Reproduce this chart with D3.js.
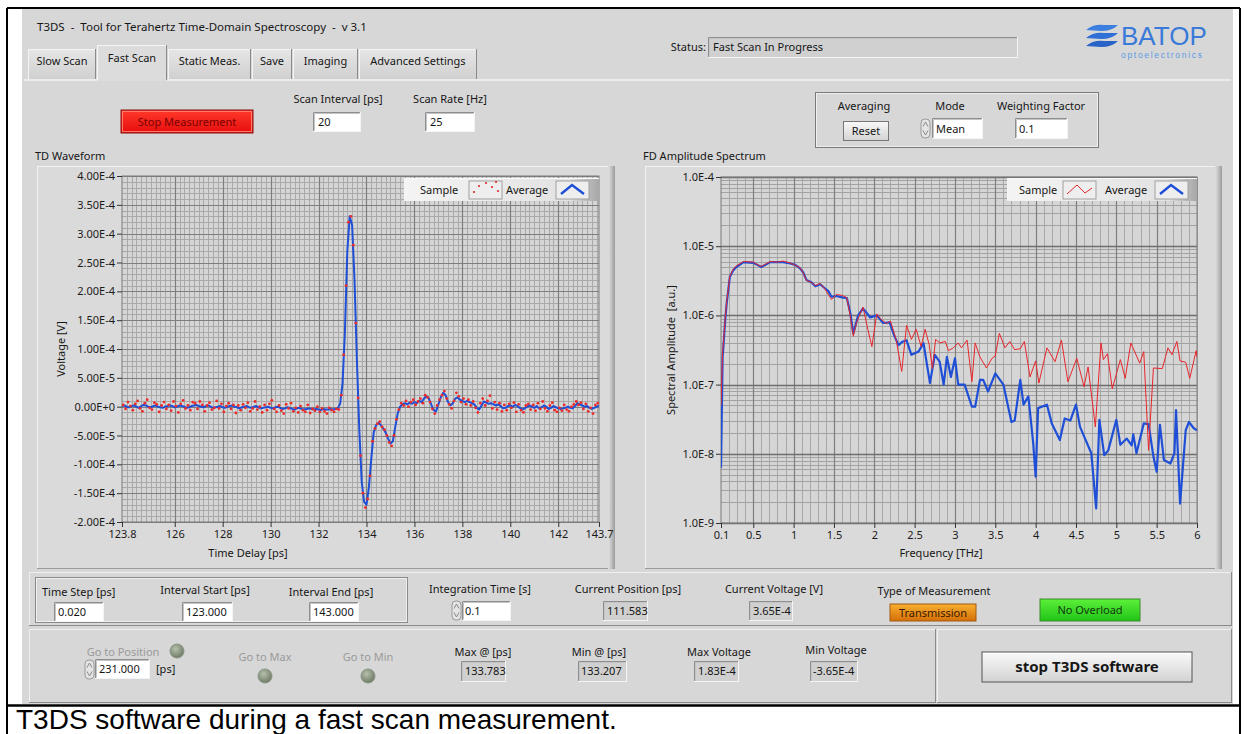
<!DOCTYPE html>
<html><head><meta charset="utf-8">
<script src="https://cdn.jsdelivr.net/npm/d3@7"></script>
<style>
html,body{margin:0;padding:0;background:#fff;}
svg{display:block;}
text{white-space:pre;}
</style></head><body>
<svg id="c" width="1247" height="734"></svg>
<script>
// ---------------- DATA ----------------
// TD waveform, values in microvolts (µV); time axis starts/steps in ps
const tdAvgStart = 123.8, tdAvgStep = 0.1;
const tdAverage = [
 1,2,0,-1,1,2,0,-2,1,3,
 2,0,-1,1,2,0,-1,-2,0,1,
 2,1,-1,0,2,1,0,-2,-1,1,
 2,3,1,0,-1,1,2,0,-2,-1,
 0,1,-1,-2,0,1,2,0,-1,-3,
 -1,0,1,-1,-2,0,1,-1,-3,-2,
 -1,0,-2,-3,-1,0,-2,-4,-3,-1,
 -2,-4,-5,-3,-2,-4,-5,-4,-3,-4,
 -5,-4,-5,-6,-4,-5,-5,-4,-5,-4,
 -3,
 5,40,130,270,330,315,220,80,-40,-130,
 -165,-170,-140,-90,-45,-32,-28,-32,-38,-45,
 -55,-64,-60,-35,-12,0,4,6,4,7,
 5,8,6,10,8,14,18,14,4,-6,
 -8,4,16,24,20,8,2,6,14,16,
 12,10,8,10,8,6,4,-2,-5,2,
 9,7,5,6,4,2,4,1,-3,-2,
 1,2,0,3,1,-2,-5,-3,0,2,
 0,-2,1,-3,-1,2,0,-4,-2,1,
 -1,-3,-4,-3,-2,0,-2,-3,1,6,
 4,2,0,1,-2,-4,-2,0,1
];
const tdSmpStart = 123.85, tdSmpStep = 0.1;
const tdSample = [
 3,-4,8,1,-6,5,10,-3,-8,6,
 12,-2,-5,7,4,-9,2,8,-4,3,
 -7,9,1,-10,5,11,-3,2,-6,8,
 6,-4,9,3,-8,2,7,-5,-2,10,
 -3,5,-9,1,6,-4,3,-11,2,-6,
 4,-2,7,-8,-3,9,-5,0,-10,3,
 -6,5,11,-4,-9,2,-7,-12,4,-3,
 6,-8,-2,-10,1,-6,-9,3,-11,-4,
 -7,0,-9,-3,-8,-12,-2,-6,-9,-4,
 -5,
 20,90,210,320,330,280,145,15,-85,-150,
 -175,-160,-120,-60,-38,-30,-26,-35,-40,-50,
 -62,-68,-50,-22,-5,6,2,10,0,8,
 12,3,9,14,6,20,16,8,-4,-12,
 2,12,20,27,14,4,-3,10,24,18,
 8,14,4,12,2,9,-2,-10,6,14,
 2,10,19,-3,8,-5,6,-8,3,-6,
 5,-2,7,-9,4,-6,-10,2,5,-5,
 3,-7,6,-4,9,-3,-8,2,7,-6,
 -9,-2,-7,3,-5,-8,0,4,9,3,
 7,-4,5,-8,-2,-12,3,6
];
const tdXTicks = [123.8,126,128,130,132,134,136,138,140,142,143.7];
const tdYTicks = [-2e-4,-1.5e-4,-1e-4,-5e-5,0,5e-5,1e-4,1.5e-4,2e-4,2.5e-4,3e-4,3.5e-4,4e-4];

// FD amplitude spectrum
const fdAvgFreq = [0.10,0.12,0.13,0.15,0.17,0.21,0.25,0.29,0.38,0.50,0.55,0.60,0.65,0.71,0.80,0.87,0.96,1.02,1.08,1.12,1.16,1.22,1.27,1.33,1.39,1.43,1.47,1.53,1.60,1.66,1.70,1.74,1.80,1.86,1.95,2.03,2.11,2.19,2.25,2.30,2.35,2.40,2.46,2.55,2.61,2.69,2.75,2.81,2.86,2.90,2.95,3.00,3.04,3.12,3.21,3.25,3.31,3.35,3.41,3.50,3.60,3.70,3.74,3.81,3.85,3.91,3.97,4.00,4.03,4.14,4.20,4.30,4.36,4.43,4.50,4.55,4.69,4.75,4.79,4.85,4.90,5.00,5.05,5.13,5.19,5.21,5.25,5.34,5.40,5.46,5.50,5.54,5.59,5.67,5.72,5.74,5.79,5.86,5.90,5.96,6.00];
const fdAverage = [6.31e-9,2.51e-7,3.55e-7,7.94e-7,1.48e-6,3.63e-6,4.47e-6,5.01e-6,5.89e-6,5.75e-6,5.37e-6,5.01e-6,5.37e-6,5.89e-6,5.89e-6,5.89e-6,5.62e-6,5.37e-6,4.79e-6,4.17e-6,3.24e-6,3.02e-6,2.63e-6,2.82e-6,2.45e-6,2.24e-6,1.86e-6,1.91e-6,1.82e-6,1.78e-6,1.12e-6,5.50e-7,1.0e-6,1.26e-6,9.33e-7,1.0e-6,7.76e-7,7.94e-7,5.01e-7,3.72e-7,4.17e-7,4.37e-7,2.69e-7,3.02e-7,3.98e-7,1.05e-7,2.69e-7,2.14e-7,1.0e-7,2.51e-7,1.29e-7,2.40e-7,1.0e-7,1.0e-7,4.79e-8,4.79e-8,1.17e-7,1.17e-7,7.94e-8,1.45e-7,1.0e-7,2.88e-8,3.02e-8,1.17e-7,5.13e-8,6.76e-8,1.41e-8,4.68e-9,4.57e-8,5.13e-8,2.75e-8,1.58e-8,3.24e-8,3.02e-8,5.13e-8,2.45e-8,1.02e-8,1.62e-9,3.09e-8,9.55e-9,1.12e-8,3.09e-8,1.35e-8,1.66e-8,1.32e-8,1.91e-8,1.02e-8,2.75e-8,2.69e-8,9.12e-9,5.50e-9,2.63e-8,8.13e-9,7.24e-9,1.02e-8,4.27e-8,1.91e-9,2.19e-8,2.88e-8,2.34e-8,2.19e-8];
const fdSmpFreq = [0.10,0.12,0.13,0.15,0.17,0.21,0.25,0.29,0.38,0.50,0.55,0.60,0.65,0.71,0.80,0.87,0.96,1.02,1.08,1.12,1.16,1.22,1.27,1.33,1.39,1.43,1.47,1.53,1.60,1.66,1.70,1.74,1.78,1.86,1.92,1.97,2.03,2.08,2.15,2.20,2.27,2.34,2.40,2.46,2.52,2.58,2.63,2.68,2.72,2.76,2.81,2.88,2.92,2.98,3.04,3.08,3.15,3.21,3.25,3.31,3.39,3.46,3.50,3.55,3.62,3.68,3.74,3.81,3.86,3.93,4.00,4.04,4.14,4.24,4.32,4.40,4.51,4.60,4.65,4.74,4.81,4.84,4.89,4.95,5.05,5.11,5.18,5.29,5.34,5.40,5.46,5.57,5.64,5.69,5.75,5.79,5.86,5.91,5.99,6.00];
const fdSample = [5.0e-8,3.0e-7,4.0e-7,8.5e-7,1.55e-6,3.7e-6,4.6e-6,5.2e-6,6.0e-6,5.9e-6,5.4e-6,5.1e-6,5.5e-6,6.0e-6,5.9e-6,6.1e-6,5.7e-6,5.3e-6,4.9e-6,4.1e-6,3.2e-6,3.0e-6,2.7e-6,2.9e-6,2.4e-6,2.0e-6,1.7e-6,2.0e-6,1.95e-6,1.8e-6,1.0e-6,5.0e-7,7.9e-7,1.32e-6,6.3e-7,3.55e-7,1.05e-6,8.9e-7,7.6e-7,8.3e-7,4.5e-7,1.55e-7,7.2e-7,4.5e-7,6.3e-7,3.55e-7,6.3e-7,3.8e-7,1.7e-7,4.5e-7,4.0e-7,4.2e-7,3.1e-7,3.4e-7,4.0e-7,3.4e-7,4.4e-7,1.1e-7,4.0e-7,2.5e-7,1.74e-7,2.4e-7,2.6e-7,5.5e-7,3.4e-7,4.2e-7,3.2e-7,3.3e-7,4.2e-7,1.29e-7,2.2e-7,1.05e-7,3.4e-7,2.14e-7,4.4e-7,1.1e-7,2.4e-7,9.3e-8,1.8e-7,2.45e-8,4.0e-7,2.3e-7,2.8e-7,8.7e-8,2.3e-7,1.23e-7,4.0e-7,2.04e-7,3.0e-7,1.12e-8,1.74e-7,1.7e-7,3.4e-7,2.7e-7,4.2e-7,2.2e-7,2.1e-7,1.23e-7,3.1e-7,2.5e-7];
const fdXTicks = [0.1,0.5,1,1.5,2,2.5,3,3.5,4,4.5,5,5.5,6];
const fdYTicks = [1e-9,1e-8,1e-7,1e-6,1e-5,1e-4];

const tabNames = ["Slow Scan","Fast Scan","Static Meas.","Save","Imaging","Advanced Settings"];

// ---------------- DRAW ----------------
const FONT = '"Noto Sans","Liberation Sans",sans-serif';
const svg = d3.select('#c');
const defs = svg.append('defs');

function txt(g,x,y,s,o={}){
  return g.append('text').attr('x',x).attr('y',y).text(s)
    .attr('font-family',o.family||FONT).attr('font-size',o.size||11)
    .attr('fill',o.fill||'#161616').attr('text-anchor',o.anchor||'start')
    .attr('font-weight',o.weight||'normal')
    .attr('letter-spacing',o.ls||0);
}
function rect(g,x,y,w,h,fill,stroke,sw){
  return g.append('rect').attr('x',x).attr('y',y).attr('width',w).attr('height',h)
    .attr('fill',fill||'none').attr('stroke',stroke||'none').attr('stroke-width',sw||1);
}
function line(g,x1,y1,x2,y2,c,w){
  return g.append('line').attr('x1',x1).attr('y1',y1).attr('x2',x2).attr('y2',y2)
    .attr('stroke',c).attr('stroke-width',w||1);
}
function raised(g,x,y,w,h,fill,light,dark){
  rect(g,x,y,w,h,fill);
  line(g,x+0.5,y+0.5,x+w-0.5,y+0.5,light||'#f2f2f2');
  line(g,x+0.5,y+0.5,x+0.5,y+h-0.5,light||'#f2f2f2');
  line(g,x,y+h-0.5,x+w,y+h-0.5,dark||'#8c8c8c');
  line(g,x+w-0.5,y,x+w-0.5,y+h,dark||'#8c8c8c');
}
function inset(g,x,y,w,h,fill){
  rect(g,x,y,w,h,fill);
  line(g,x+0.5,y+0.5,x+w-0.5,y+0.5,'#8e8e8e');
  line(g,x+0.5,y+0.5,x+0.5,y+h-0.5,'#8e8e8e');
  line(g,x+1.5,y+1.5,x+w-1.5,y+1.5,'#c4c4c4');
  line(g,x+1.5,y+1.5,x+1.5,y+h-1.5,'#c4c4c4');
  line(g,x,y+h-0.5,x+w,y+h-0.5,'#f4f4f4');
  line(g,x+w-0.5,y,x+w-0.5,y+h,'#f4f4f4');
}
function grad(id,stops,vertical){
  const lg = defs.append('linearGradient').attr('id',id)
    .attr('x1',0).attr('y1',0).attr('x2',vertical?0:1).attr('y2',vertical?1:0);
  stops.forEach(s=>lg.append('stop').attr('offset',s[0]).attr('stop-color',s[1]));
}
grad('gRed',[[0,'#ff3a2a'],[1,'#e60d0d']],true);
grad('gOrange',[[0,'#f8b030'],[1,'#d46f08']],true);
grad('gGreen',[[0,'#5cf03a'],[1,'#22c418']],true);
grad('gBtn',[[0,'#fafafa'],[1,'#d2d2d2']],true);
grad('gLeg',[[0,'#f4f4f4'],[0.85,'#e2e2e2'],[0.9,'#c8c8c8'],[1,'#a8a8a8']],false);
grad('gEdge',[[0,'#e0e0e0'],[0.5,'#c0c0c0'],[1,'#9a9a9a']],false);
grad('gTab',[[0,'#e6e6e6'],[1,'#d0d0d0']],true);
const rg = defs.append('radialGradient').attr('id','gLed').attr('cx','40%').attr('cy','35%').attr('r','65%');
rg.append('stop').attr('offset',0).attr('stop-color','#b6c0ac');
rg.append('stop').attr('offset',1).attr('stop-color','#6f7c66');

// page
rect(svg,0,0,1247,734,'#ffffff');
const root = svg.append('g');
rect(root,22,9,1211,695,'#d7d7d7');

// title
txt(root,37,31,'T3DS  -  Tool for Terahertz Time-Domain Spectroscopy  -  v 3.1',{size:11.5});

// tabs
const tabX = [28,97,168,252,293,359,478];
rect(root,24,79,1207,2,'#ececec');
tabNames.forEach((n,i)=>{
  const x0=tabX[i], x1=tabX[i+1]-1, sel = i===1;
  const g = root.append('g');
  if(sel){
    rect(g,x0,45,x1-x0,36,'#dcdcdc');
    line(g,x0+0.5,45,x0+0.5,80,'#f6f6f6');
    line(g,x0,45.5,x1,45.5,'#f6f6f6');
    line(g,x1-0.5,45,x1-0.5,80,'#8a8a8a');
  } else {
    rect(g,x0,49,x1-x0,30,'url(#gTab)');
    line(g,x0+0.5,49,x0+0.5,79,'#f4f4f4');
    line(g,x0,49.5,x1,49.5,'#f4f4f4');
    line(g,x1-0.5,49,x1-0.5,79,'#8a8a8a');
  }
  txt(g,(x0+x1)/2,sel?62:65,n,{anchor:'middle',size:11});
});

// status
txt(root,706,51,'Status:',{anchor:'end',size:11});
inset(root,708,37,310,21,'#d0d0d0');
txt(root,713,51,'Fast Scan In Progress',{size:11});

// BATOP logo
const lg = root.append('g');
[[0,'#3c7fe0'],[8,'#2f6fd6'],[16,'#2a63c8']].forEach(([dy,c])=>{
  lg.append('path').attr('d',`M1086,${30+dy} Q1093,${24+dy} 1104,${25+dy} L1118,${25+dy} Q1112,${31+dy} 1101,${31+dy} Z`).attr('fill',c);
});
txt(lg,1121,45,'BATOP',{size:26,fill:'#3a7ad8',family:'"Liberation Sans Narrow","Liberation Sans",sans-serif'});
txt(lg,1121,58,'optoelectronics',{size:8.5,fill:'#5a9ae4',ls:1.7,family:'"Liberation Sans",sans-serif'});

// Stop Measurement button
rect(root,121,110,132,23,'url(#gRed)','#8a1010');
rect(root,122.5,111.5,129,20,'none','#ff7a6a');
txt(root,187,126,'Stop Measurement',{anchor:'middle',size:11,fill:'#7a0000'});

// scan interval / rate
txt(root,338,103,'Scan Interval [ps]',{anchor:'middle'});
inset(root,313,112,48,20,'#ffffff');
txt(root,318,126,'20');
txt(root,450,103,'Scan Rate [Hz]',{anchor:'middle'});
inset(root,425,112,50,20,'#ffffff');
txt(root,430,126,'25');

// averaging group
rect(root,815.5,92.5,283,55,'none','#7a7a7a');
rect(root,816.5,93.5,281,53,'none','#efefef');
txt(root,864,110,'Averaging',{anchor:'middle'});
txt(root,950,110,'Mode',{anchor:'middle'});
txt(root,1041,110,'Weighting Factor',{anchor:'middle'});
raised(root,843,121,46,20,'url(#gBtn)','#ffffff','#555555');
rect(root,843.5,121.5,45,19,'none','#777');
txt(root,866,135,'Reset',{anchor:'middle'});
function spinner(g,x,y,h){
  g.append('rect').attr('x',x).attr('y',y).attr('width',9).attr('height',h).attr('rx',4)
    .attr('fill','#e4e4e4').attr('stroke','#9a9a9a');
  g.append('path').attr('d',`M${x+2},${y+h/2-2} L${x+4.5},${y+3} L${x+7},${y+h/2-2}`).attr('fill','none').attr('stroke','#8a8a8a');
  g.append('path').attr('d',`M${x+2},${y+h/2+2} L${x+4.5},${y+h-3} L${x+7},${y+h/2+2}`).attr('fill','none').attr('stroke','#8a8a8a');
}
spinner(root,921,119,19);
inset(root,932,118,51,21,'#ffffff');
txt(root,936,133,'Mean');
inset(root,1015,118,53,21,'#ffffff');
txt(root,1019,133,'0.1');

// ---------------- CHARTS ----------------
function chartFrame(x,y,w,h,title){
  txt(root,x-2,y-6,title,{size:11});
  rect(root,x,y,w,h,'#dadada');
  line(root,x+0.5,y,x+0.5,y+h,'#f2f2f2');
  line(root,x,y+0.5,x+w,y+0.5,'#f2f2f2');
  line(root,x,y+h-0.5,x+w,y+h-0.5,'#9a9a9a');
  rect(root,x+w-7,y,7,h,'url(#gEdge)');
}
chartFrame(37,166,578,403,'TD Waveform');
chartFrame(645,166,577,403,'FD Amplitude Spectrum');

function plotArea(id,px0,py0,px1,py1){
  defs.append('clipPath').attr('id',id).append('rect')
    .attr('x',px0).attr('y',py0).attr('width',px1-px0).attr('height',py1-py0);
  rect(root,px0,py0,px1-px0,py1-py0,'#d5d5d5');
}

// ---- TD chart
const tx = d3.scaleLinear().domain([123.8,143.7]).range([122,599]);
const ty = d3.scaleLinear().domain([-2e-4,4e-4]).range([522,176]);
plotArea('clipTD',122,176,599,522);
const gTD = root.append('g');
const tdMinorX = d3.range(0,100).map(i=>+(124+i*0.2).toFixed(1)).filter(v=>v<143.7);
const tdMinorY = d3.range(0,61).map(i=>-2e-4+i*1e-5);
gTD.selectAll('.mx').data(tdMinorX).join('line')
  .attr('x1',d=>Math.round(tx(d))+0.5).attr('x2',d=>Math.round(tx(d))+0.5).attr('y1',176).attr('y2',522)
  .attr('stroke','#a9a9a9').attr('stroke-width',1);
gTD.selectAll('.my').data(tdMinorY).join('line')
  .attr('y1',d=>Math.round(ty(d))+0.5).attr('y2',d=>Math.round(ty(d))+0.5).attr('x1',122).attr('x2',599)
  .attr('stroke','#a9a9a9').attr('stroke-width',1);
gTD.selectAll('.Mx').data(tdXTicks.slice(1,-1)).join('line')
  .attr('x1',d=>Math.round(tx(d))+0.5).attr('x2',d=>Math.round(tx(d))+0.5).attr('y1',176).attr('y2',522)
  .attr('stroke','#7e7e7e').attr('stroke-width',1.2);
gTD.selectAll('.My').data(tdYTicks).join('line')
  .attr('y1',d=>Math.round(ty(d))+0.5).attr('y2',d=>Math.round(ty(d))+0.5).attr('x1',122).attr('x2',599)
  .attr('stroke','#7e7e7e').attr('stroke-width',1.2);
rect(gTD,122,176,477,346,'none','#7a7a7a');

const tdData = root.append('g').attr('clip-path','url(#clipTD)');
tdData.append('path').datum(tdAverage)
  .attr('d',d3.line().x((d,i)=>tx(tdAvgStart+i*tdAvgStep)).y(d=>ty(d*1e-6)))
  .attr('fill','none').attr('stroke','#1f4fd6').attr('stroke-width',2).attr('stroke-linejoin','round');
tdData.selectAll('circle').data(tdSample).join('circle')
  .attr('cx',(d,i)=>tx(tdSmpStart+i*tdSmpStep)).attr('cy',d=>ty(d*1e-6)).attr('r',1.4)
  .attr('fill','#ee2a2a');

function styleAxis(g){
  g.select('.domain').remove();
  g.selectAll('.tick line').attr('stroke','#333');
  g.selectAll('.tick text').attr('font-family',FONT).attr('font-size',11).attr('fill','#1a1a1a');
}
root.append('g').attr('transform','translate(122,0)')
  .call(d3.axisLeft(ty).tickValues(tdYTicks).tickSize(5).tickPadding(2)
    .tickFormat(d=>d.toExponential(2).toUpperCase()))
  .call(styleAxis);
root.append('g').attr('transform','translate(0,522)')
  .call(d3.axisBottom(tx).tickValues(tdXTicks).tickSize(5).tickPadding(3)
    .tickFormat(d=>String(d)))
  .call(styleAxis);
txt(root,248,557,'Time Delay [ps]',{anchor:'middle'});
txt(root,0,0,'Voltage [V]',{anchor:'middle'}).attr('transform','translate(65,349) rotate(-90)');

// ---- FD chart
const fx = d3.scaleLinear().domain([0.1,6]).range([721,1197]);
const fy = d3.scaleLog().domain([1e-9,1e-4]).range([523,177]);
plotArea('clipFD',721,177,1197,523);
const gFD = root.append('g');
const fdMinorX = d3.range(1,60).map(i=>+(0.1+i*0.1).toFixed(1));
const fdMinorY = [];
fdYTicks.slice(0,-1).forEach(dec=>{ for(let k=2;k<=9;k++) fdMinorY.push(dec*k); });
gFD.selectAll('.mx').data(fdMinorX).join('line')
  .attr('x1',d=>Math.round(fx(d))+0.5).attr('x2',d=>Math.round(fx(d))+0.5).attr('y1',177).attr('y2',523)
  .attr('stroke','#a9a9a9');
gFD.selectAll('.my').data(fdMinorY).join('line')
  .attr('y1',d=>Math.round(fy(d))+0.5).attr('y2',d=>Math.round(fy(d))+0.5).attr('x1',721).attr('x2',1197)
  .attr('stroke','#a2a2a2');
gFD.selectAll('.Mx').data(fdXTicks.slice(1,-1)).join('line')
  .attr('x1',d=>Math.round(fx(d))+0.5).attr('x2',d=>Math.round(fx(d))+0.5).attr('y1',177).attr('y2',523)
  .attr('stroke','#7e7e7e').attr('stroke-width',1.2);
gFD.selectAll('.My').data(fdYTicks).join('line')
  .attr('y1',d=>Math.round(fy(d))+0.5).attr('y2',d=>Math.round(fy(d))+0.5).attr('x1',721).attr('x2',1197)
  .attr('stroke','#6e6e6e').attr('stroke-width',1.6);
rect(gFD,721,177,476,346,'none','#7a7a7a');

const fdData = root.append('g').attr('clip-path','url(#clipFD)');
fdData.append('path').datum(fdAvgFreq.map((f,i)=>[f,fdAverage[i]]))
  .attr('d',d3.line().x(d=>fx(d[0])).y(d=>fy(d[1])))
  .attr('fill','none').attr('stroke','#1f4fd6').attr('stroke-width',2.2).attr('stroke-linejoin','round');
fdData.append('path').datum(fdSmpFreq.map((f,i)=>[f,fdSample[i]]))
  .attr('d',d3.line().x(d=>fx(d[0])).y(d=>fy(d[1])))
  .attr('fill','none').attr('stroke','#e8262c').attr('stroke-width',1).attr('stroke-linejoin','round');

root.append('g').attr('transform','translate(721,0)')
  .call(d3.axisLeft(fy).tickValues(fdYTicks).tickSize(5).tickPadding(2)
    .tickFormat(d=>d.toExponential(1).toUpperCase()))
  .call(styleAxis);
root.append('g').attr('transform','translate(0,523)')
  .call(d3.axisBottom(fx).tickValues(fdXTicks).tickSize(5).tickPadding(3)
    .tickFormat(d=>String(d)))
  .call(styleAxis);
txt(root,941,557,'Frequency [THz]',{anchor:'middle'});
txt(root,0,0,'Spectral Amplitude  [a.u.]',{anchor:'middle'}).attr('transform','translate(675,350) rotate(-90)');

// ---- legends
function legend(x,y,w,items){
  const g = root.append('g');
  rect(g,x,y,w,23,'url(#gLeg)');
  line(g,x,y+0.5,x+w,y+0.5,'#fafafa');
  items.forEach(it=>{
    txt(g,it.tx,y+16,it.label,{size:11});
    rect(g,it.sx,y+3,33,18,'#eeeeee','#a0a0a0');
    if(it.kind==='dots'){
      [[5,14],[10,8],[17,5],[23,9],[29,13],[27,4]].forEach(p=>
        g.append('circle').attr('cx',it.sx+p[0]).attr('cy',y+p[1]).attr('r',1.1).attr('fill','#e02828'));
    } else if(it.kind==='thin'){
      g.append('path').attr('d',`M${it.sx+4},${y+16} L${it.sx+14},${y+7} L${it.sx+22},${y+15} L${it.sx+29},${y+10}`)
        .attr('fill','none').attr('stroke','#e02828').attr('stroke-width',1);
    } else {
      g.append('path').attr('d',`M${it.sx+5},${y+16} L${it.sx+16},${y+7} L${it.sx+28},${y+16}`)
        .attr('fill','none').attr('stroke','#1f4fd6').attr('stroke-width',2.4);
    }
  });
}
legend(404,178,195,[{tx:420,sx:469,label:'Sample',kind:'dots'},{tx:506,sx:556,label:'Average',kind:'thick'}]);
legend(1007,178,190,[{tx:1019,sx:1063,label:'Sample',kind:'thin'},{tx:1105,sx:1155,label:'Average',kind:'thick'}]);

// ---------------- BOTTOM PANELS ----------------
raised(root,29,572,1203,54,'#d7d7d7','#f0f0f0','#8a8a8a');
rect(root,35.5,577.5,372,45,'none','#8a8a8a');
rect(root,36.5,578.5,370,43,'none','#efefef');
txt(root,42,596,'Time Step [ps]');
inset(root,54,602,50,20,'#ffffff'); txt(root,58,616,'0.020');
txt(root,205,594,'Interval Start [ps]',{anchor:'middle'});
inset(root,182,602,51,20,'#ffffff'); txt(root,186,616,'123.000');
txt(root,331,596,'Interval End [ps]',{anchor:'middle'});
inset(root,309,602,50,20,'#ffffff'); txt(root,313,616,'143.000');
txt(root,480,593,'Integration Time [s]',{anchor:'middle'});
spinner(root,452,601,19);
inset(root,462,601,49,20,'#ffffff'); txt(root,465,615,'0.1');
txt(root,628,593,'Current Position [ps]',{anchor:'middle'});
inset(root,603,601,45,20,'#d0d0d0'); txt(root,607,615,'111.583');
txt(root,774,593,'Current Voltage [V]',{anchor:'middle'});
inset(root,749,601,44,20,'#d0d0d0'); txt(root,753,615,'3.65E-4');
txt(root,934,595,'Type of Measurement',{anchor:'middle'});
rect(root,890,604,86,17,'url(#gOrange)','#a05a10');
txt(root,933,617,'Transmission',{anchor:'middle',fill:'#3a1800'});
rect(root,1040,599,100,22,'url(#gGreen)','#3a8a2a');
txt(root,1090,614,'No Overload',{anchor:'middle',fill:'#103a10'});

raised(root,29,629,907,74,'#d7d7d7','#f0f0f0','#8a8a8a');
raised(root,937,629,295,74,'#d7d7d7','#f0f0f0','#8a8a8a');
txt(root,123,656,'Go to Position',{anchor:'middle',fill:'#9a9a9a'});
root.append('circle').attr('cx',177).attr('cy',651).attr('r',7).attr('fill','url(#gLed)').attr('stroke','#8a9484');
spinner(root,85,660,19);
inset(root,95,659,55,20,'#ffffff'); txt(root,99,673,'231.000');
txt(root,156,673,'[ps]');
txt(root,265,661,'Go to Max',{anchor:'middle',fill:'#9a9a9a'});
root.append('circle').attr('cx',265).attr('cy',676).attr('r',7).attr('fill','url(#gLed)').attr('stroke','#8a9484');
txt(root,368,661,'Go to Min',{anchor:'middle',fill:'#9a9a9a'});
root.append('circle').attr('cx',368).attr('cy',676).attr('r',7).attr('fill','url(#gLed)').attr('stroke','#8a9484');
txt(root,483,656,'Max @ [ps]',{anchor:'middle'});
inset(root,461,661,45,21,'#d0d0d0'); txt(root,465,675,'133.783');
txt(root,599,656,'Min @ [ps]',{anchor:'middle'});
inset(root,578,661,49,21,'#d0d0d0'); txt(root,581,675,'133.207');
txt(root,719,656,'Max Voltage',{anchor:'middle'});
inset(root,694,661,45,21,'#d0d0d0'); txt(root,698,675,'1.83E-4');
txt(root,836,654,'Min Voltage',{anchor:'middle'});
inset(root,810,661,48,21,'#d0d0d0'); txt(root,813,675,'-3.65E-4');
rect(root,982,652,210,30,'url(#gBtn)','#555555');
line(root,983,653.5,1191,653.5,'#ffffff');
txt(root,1087,672,'stop T3DS software',{anchor:'middle',weight:'bold',size:15});

// ---------------- OUTER BORDER & CAPTION ----------------
line(svg,7,8,1240,8,'#000',2);
line(svg,7,8,7,734,'#000',2);
line(svg,1240,8,1240,734,'#000',2);
line(svg,7,705.5,1240,705.5,'#000',2.5);
txt(svg,16,729,'T3DS software during a fast scan measurement.',{size:28,fill:'#000',family:'"Liberation Sans",Arial,sans-serif'});
</script>
</body></html>
